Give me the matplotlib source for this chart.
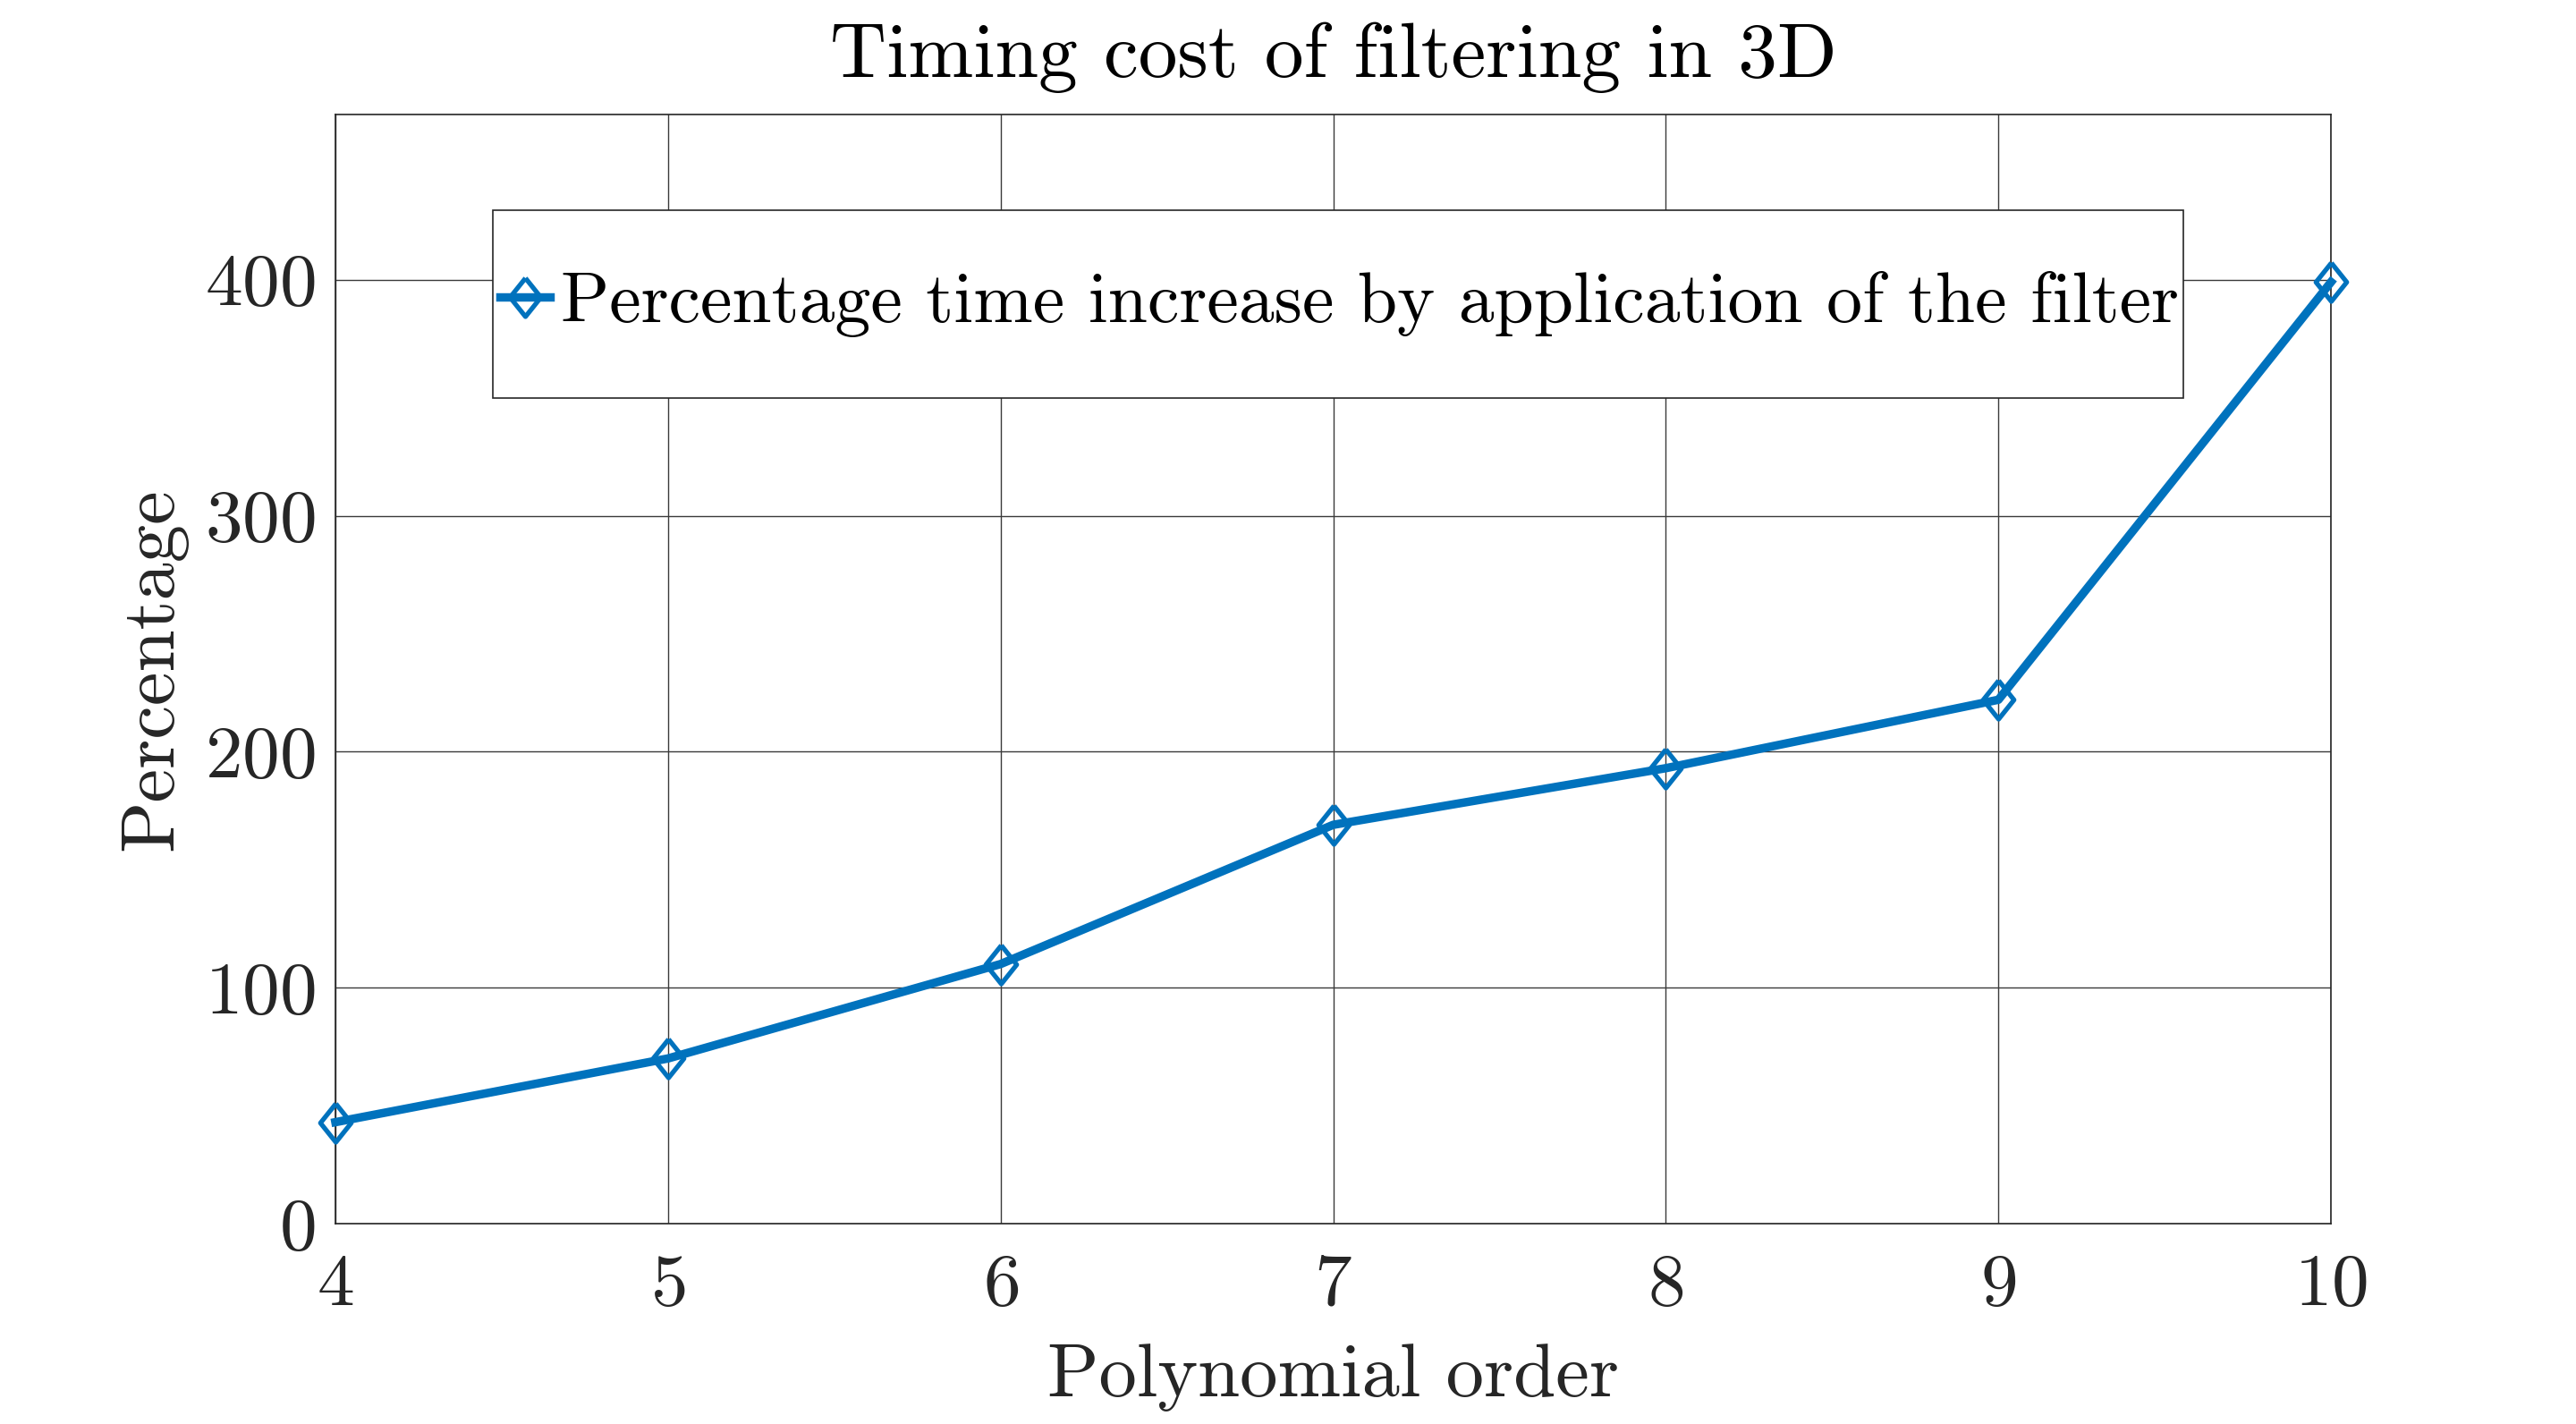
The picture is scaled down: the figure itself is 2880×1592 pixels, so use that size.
import matplotlib
matplotlib.use("Agg")
import matplotlib.pyplot as plt
from matplotlib.patches import Rectangle

# data
orders = [4, 5, 6, 7, 8, 9, 10]
pct_increase = [43, 70, 110, 169, 193, 222, 399]
yticks = [0, 100, 200, 300, 400]

plt.rcParams["font.family"] = ["cmr10", "DejaVu Serif"]
plt.rcParams["axes.formatter.use_mathtext"] = True
plt.rcParams["mathtext.fontset"] = "cm"

blue = "#0072BD"
dark = "#262626"

fig = plt.figure(figsize=(14.4, 7.96), dpi=200)
ax = fig.add_axes([0.1302, 0.1407, 0.9049 - 0.1302, 0.9196 - 0.1407])

diamond = [(0, 1), (0.8, 0), (0, -1), (-0.8, 0), (0, 1)]
ax.plot(orders, pct_increase, color=blue, linewidth=3.4, marker=diamond,
        markersize=15.5, markerfacecolor="none", markeredgecolor=blue,
        markeredgewidth=1.9, zorder=5, clip_on=False,
        label="Percentage time increase by application of the filter")

ax.set_xlim(4, 10)
ax.set_ylim(0, 470)
ax.set_xticks(orders)
ax.set_yticks(yticks)
ax.grid(True, color="#3a3a3a", linewidth=0.5)
ax.set_axisbelow(True)
for sp in ax.spines.values():
    sp.set_color(dark)
    sp.set_linewidth(0.6)

ax.tick_params(axis="both", length=0, labelsize=30, colors=dark)
ax.tick_params(axis="x", pad=12)
ax.tick_params(axis="y", pad=8)

ax.set_xlabel("Polynomial order", fontsize=30.5, color=dark, labelpad=10)
ax.set_ylabel("Percentage", fontsize=30.5, color=dark, labelpad=7)
ax.set_title("Timing cost of filtering in 3D", fontsize=31.5, color="black", pad=15)

# legend box (MATLAB style, roomy vertical padding)
box = Rectangle((0.0789, 0.7444), 0.926 - 0.0789, 0.9137 - 0.7444,
                transform=ax.transAxes, facecolor="white", edgecolor=dark,
                linewidth=0.6, zorder=6)
ax.add_patch(box)
leg = ax.legend(loc="center left", bbox_to_anchor=(0.0789, 0.829),
                frameon=False, fontsize=28.7, handlelength=0.7,
                handletextpad=0.15, borderpad=0.1, borderaxespad=0.0)
leg.set_zorder(7)

fig.savefig("out.png", dpi=200)
